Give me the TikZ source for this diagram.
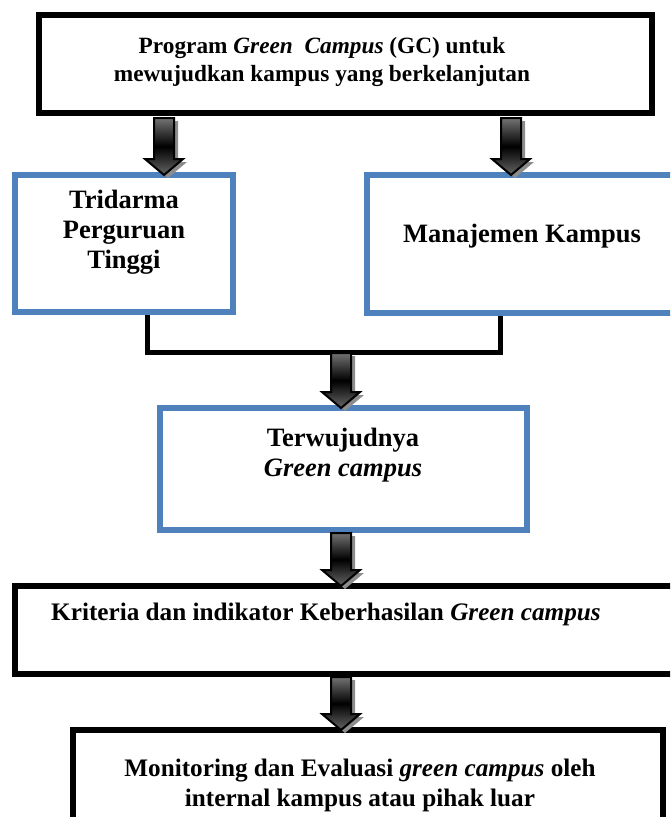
\documentclass[tikz,border=0pt]{standalone}
\usepackage{fontspec}
\setmainfont{Liberation Serif}
\usetikzlibrary{calc}
\definecolor{boxblue}{HTML}{4F81BD}
\tikzset{
  blackbox/.style={draw=black, line width=6.5pt, rectangle, inner sep=0pt},
  bluebox/.style={draw=boxblue, line width=6pt, rectangle, inner sep=0pt},
  label/.style={inner sep=0pt, align=center, font=\fontsize{26.5}{30}\selectfont\bfseries},
  smalllabel/.style={label, font=\fontsize{23.3}{28}\selectfont\bfseries},
  midlabel/.style={label, font=\fontsize{25.2}{30}\selectfont\bfseries},
  joinline/.style={draw=black, line width=5pt},
  arrowshadow/.style={fill=black!45},
  arrowbody/.style={draw=black, line width=2pt, top color=black!55, bottom color=black!60, middle color=black},
}
% block arrow pointing down: #1 = x, #2 = top of shaft, #3 = tip
\newcommand\blockarrow[3]{%
  \fill[arrowshadow] (#1-10+4,#2+3) -- (#1+10+4,#2+3) -- (#1+10+4,#3-16+3) -- (#1+19+4,#3-16+3)
    -- (#1+4,#3+3) -- (#1-19+4,#3-16+3) -- (#1-10+4,#3-16+3) -- cycle;
  \path[arrowbody] (#1-10,#2) -- (#1+10,#2) -- (#1+10,#3-16) -- (#1+19,#3-16)
    -- (#1,#3) -- (#1-19,#3-16) -- (#1-10,#3-16) -- cycle;
}
\begin{document}
\begin{tikzpicture}[x=1pt, y=-1pt]
\useasboundingbox (0,0) rectangle (670,817);
\clip (0,0) rectangle (670,817);

% boxes
\node[blackbox, minimum width=613pt, minimum height=98pt] (top) at (345.5,64) {};
\node[bluebox, minimum width=218pt, minimum height=137pt] (tri) at (124,243.5) {};
\node[bluebox, minimum width=353pt, minimum height=138pt] (man) at (543.5,244) {};
\node[bluebox, minimum width=367pt, minimum height=122pt] (ter) at (343.5,469) {};
\node[blackbox, minimum width=705pt, minimum height=88pt] (kri) at (367.5,630) {};
\node[blackbox, minimum width=590pt, minimum height=130pt] (mon) at (368,795) {};

% texts
\node[smalllabel] (toptxt) at (322,62) {Program \textit{Green\ \ Campus} (GC) untuk\\mewujudkan kampus yang berkelanjutan};
\node[label] (tritxt) at (124,232) {Tridarma\\Perguruan\\Tinggi};
\node[label] (mantxt) at (522,236) {Manajemen Kampus};
\node[label] (tertxt) at (343,455) {Terwujudnya\\\textit{Green campus}};
\node[midlabel] (kritxt) at (326,614) {Kriteria dan indikator Keberhasilan \textit{Green campus}};
\node[midlabel] (montxt) at (360,785) {Monitoring dan Evaluasi \textit{green campus} oleh\\internal kampus atau pihak luar};

% joining line below the two middle boxes
\coordinate (jl) at ($(tri.south)+(23,0)$);
\coordinate (jr) at ($(man.south)+(-43.5,0)$);
\draw[joinline] (jl) -- ++(0,37) -| (jr);

% block arrows
\blockarrow{164}{118}{175}
\blockarrow{511}{118}{175}
\blockarrow{341}{353}{408}
\blockarrow{341}{533}{586}
\blockarrow{341}{677}{730}
\end{tikzpicture}
\end{document}
